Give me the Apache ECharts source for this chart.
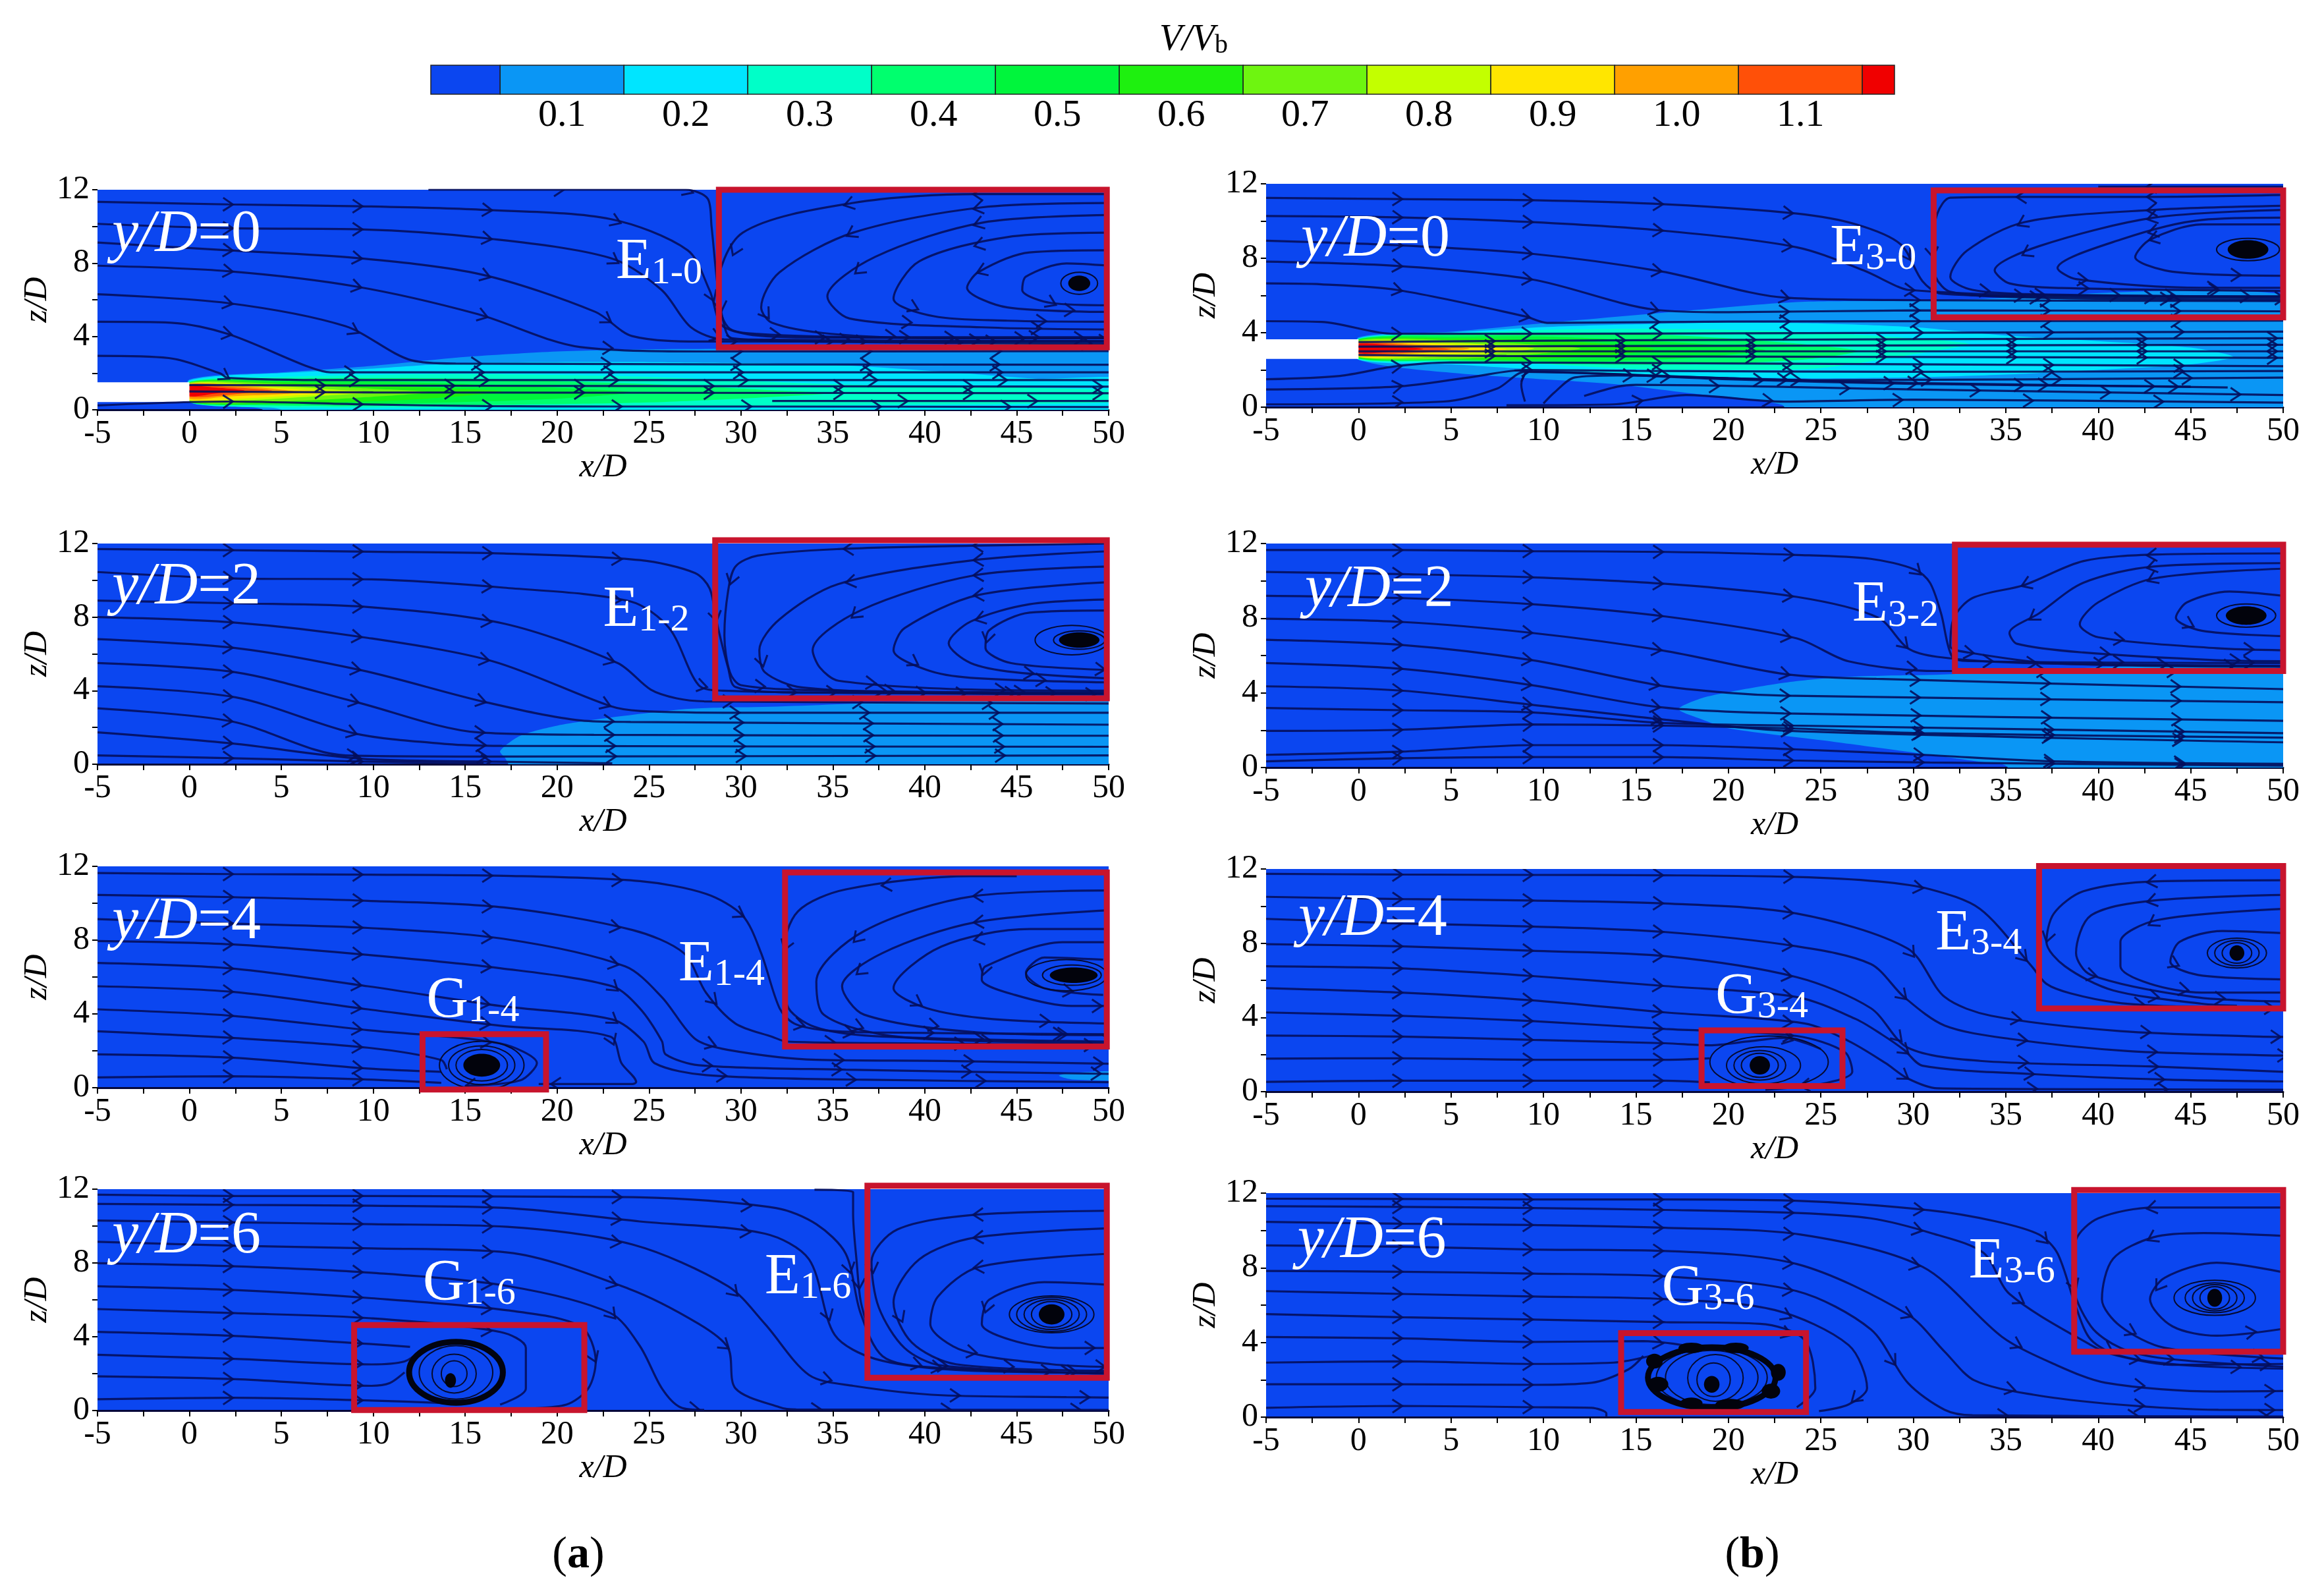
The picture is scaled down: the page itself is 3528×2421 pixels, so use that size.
<!DOCTYPE html>
<html><head><meta charset="utf-8">
<style>html,body{margin:0;padding:0;background:#fff}#c{width:3528px;height:2421px}</style>
<script src="https://cdn.jsdelivr.net/npm/echarts@6/dist/echarts.min.js"></script></head>
<body><div id="c"></div>
<script>
// ---------- colour bar ----------
const CB_EDGES=[-0.006,0.05,0.15,0.25,0.35,0.45,0.55,0.65,0.75,0.85,0.95,1.05,1.15,1.176];
const CB_TICKS=[0.1,0.2,0.3,0.4,0.5,0.6,0.7,0.8,0.9,1.0,1.1];
const CB_COLORS=['#0B46F0','#0A96F5','#00E5FF','#00FFC8','#00FF6E','#00F53C','#1EF00F','#6EF510','#C3FF00','#FFE600','#FFA000','#FF5008','#F00000'];

// ---------- streamlines: flat x/D, z/D pairs ----------
const A0_STREAMS=[
[13,12,20,12,27,12,28.2,11.5,28.4,10,28.7,7,29,5,29.5,3.9,35,3.7,50,3.6],
[-5,11.34,2.1,11.2,9.3,11.1,16.1,10.9,22.9,10.4,27.1,8.7,28.3,6.5,29.1,4.5,33,3.95,50,3.9],
[-5,10.14,2.08,9.9,9.28,9.84,16.08,9.36,22.88,8.28,25.68,6.54,27.28,4.5,29.08,3.84,50,3.75],
[-5,9.12,2.08,8.7,9.08,8.28,15.88,7.38,22.08,5.34,24.08,4.02,28.08,3.72,50,3.72],
[-5,7.86,2.08,7.56,9.08,6.72,15.68,5.22,21.28,3.42,28.08,3.18,50,3.2],
[-5,6.3,2.08,5.82,8.48,4.56,12.08,2.7,14.48,2.52,50,2.46],
[-5,4.8,-1,4.75,2.08,4.14,6.48,2.34,7.68,2.04,50,2.04],
[-5,2.94,-1.12,2.82,1.68,1.98,2.08,1.74,8,1.62,50,1.62],
[0,1.35,10,1.32,50,1.26],[0,1.0,10,0.95,50,0.9],[31.7,0.48,50,0.48],
[-5,0.24,2.1,0.45,9.3,0.3,16.1,0.2,23,0.18,30,0.18,50,0.15],
[50,11.76,42.9,11.76,36.1,11.28,30.1,9.66,28.7,6.5,29.3,4.5,30.9,4.14,37.7,3.96,50,3.96],
[50,11.28,43.1,11.04,36.1,9.66,32.1,7.5,31.1,5.58,31.7,4.74,34.9,4.14,41,3.9,50,3.9],
[50,10.62,43.1,10.2,37.3,8.34,34.7,6.18,35.9,4.98,43.1,4.5,50,4.38],
[50,9.66,44.5,9.42,39.7,8.1,38.3,6.06,40.5,5.1,44.5,4.86,50,4.8],
[50,8.7,45.7,8.58,42.9,7.5,42.3,6.66,44.5,5.58,50,5.34],
[50,7.86,47.7,7.98,45.5,7.26,45.3,6.54,46.9,5.82,50,5.7]];
const B0_STREAMS=[
[50,11.85,40,11.85],
[-5,11.24,2.07,11.18,9.4,11.12,16.6,10.9,23.7,10.4,26.9,9.82,29.3,8.76,30.5,6.76,31.5,6.1,37,5.95,50,5.85],
[-5,10.27,2.07,10.2,9.4,9.94,16.6,9.47,23.7,8.59,27.3,7.35,29.1,6.5,29.7,6.3,35,6.05,50,5.95],
[-5,8.94,2.07,8.7,9.4,8.24,16.4,7.29,23.1,5.88,30,5.75,50,5.7],
[-5,7.82,2.07,7.59,9.4,6.86,16,5.24,20,5.1,30,5.2,50,5.15],
[-5,6.65,-2,6.6,2.07,6.3,9,4.88,10.2,4.53,20,4.6,50,4.65],
[-5,4.62,-2,4.58,1.9,3.94,15,3.95,50,4.06],
[0,3.5,15,3.6,50,3.7],[0,3.25,20,3.3,50,3.35],[0,3.0,50,3.0],[0,2.8,8,2.75,50,2.65],
[-5,1.5,-1,1.68,1.9,2.18,5,2.4,20,2.35,50,2.2],
[-5,0.95,2,1.1,6,1.6,9,2.0,15,1.95,30,1.9,50,1.94],
[-5,0.15,4.6,0.3,7.5,1.0,9,1.9,20,1.55,30,1.3,47,1.06],
[9,0.3,8.8,1.2,9.2,1.9,20,1.5,30,1.25,45,1.1],
[10,0.2,10.6,0.8,11.7,1.6,14,1.7,25,1.45,50,1.59],
[12.2,0.6,14,1.1,15,1.2,30,0.95,50,0.65],
[8,0.1,13.8,0.15,17.7,0.65,23,0.3,30,0.4,50,0.24],
[50,11.4,43,11.3,36,11.3,32,11.25,31.3,10.4,31,8.5,31.2,7,32,6.2,36,5.9,50,5.75],
[50,10.82,43,10.6,36,9.94,32.9,8.41,32,7,33.2,6.3,36.8,6.06,50,5.94],
[50,10.6,43,10.18,36.8,8.65,34.4,7.35,35.2,6.65,38,6.4,50,6.24],
[50,10.18,45.6,10.06,41.2,9,37.8,7.47,38.8,6.88,45.6,6.41,50,6.41],
[50,9.82,45.6,9.82,42.8,9,42,8.06,43.6,7.35,46.4,7.12,50,7.06]];
const A2_STREAMS=[
[-5,11.7,2.3,11.64,9.7,11.56,17.1,11.46,24.5,11.1,27.5,10.4,28.3,9.55,28.7,7.64,29.3,5.25,29.7,4.2,33,3.9,50,3.85],
[-5,10.45,2.5,10.1,9.9,10.05,17.1,9.6,24,8.85,26.1,7.4,27.7,4.3,29,4,40,3.85,50,3.8],
[-5,8.9,2.5,8.75,9.7,8.55,17.1,7.65,23.3,5.5,25.1,4.05,26.5,3.58,28,3.42,50,3.3],
[-5,8,2.5,7.7,9.7,6.87,16.5,5.6,22.9,3.16,24.5,2.9,30,2.8,50,2.8],
[-5,6.8,2.5,6.32,9.4,5.1,16,3.4,21.3,2.38,24,2.3,50,2.15],
[-5,5.5,2.5,5,9,3.4,15.7,1.73,22,1.6,50,1.55],
[-5,4.24,2.5,3.64,9,1.67,14,1.1,17,1.0,50,0.95],
[-5,3.04,2.3,2.33,8.5,0.48,16,0.42,50,0.48],
[-5,1.73,2.3,1.13,9.3,0.3,16,0.15,23,0.05],
[-5,0.48,2.3,0.33,9.3,0.15,16,0.05],
[50,12,42.5,11.88,35.3,11.7,30.9,11.34,29.7,10.75,29.3,9.4,29.1,7,29.4,5,30,4.3,35,4,50,3.9],
[50,11.58,42.7,11.1,35.3,9.8,32.1,7.88,31,6.2,31.3,5,33.3,4.18,41.7,3.88,50,3.85],
[50,10.75,42.7,10.27,36.5,8.36,33.9,6.2,34.3,5.25,35.3,4.54,42.5,4.06,50,4],
[50,9.9,42.9,9.2,38.9,7.4,38.3,6.2,40.1,5.13,42.5,4.7,50,4.45],
[50,8.96,45.7,8.7,42.5,7.76,41.3,6.57,42.5,5.5,44.9,5,50,4.66],
[50,8.36,45.7,8.24,43.5,7.28,43.3,6.33,44.7,5.5,50,5.13]];
const B2_STREAMS=[
[-5,11.65,2.3,11.65,9.4,11.59,16.6,11.55,23.7,11.39,27.7,11.18,30.1,10.6,30.9,9.9,31.5,8.26,32.1,5.93,33,5.7,50,5.6],
[-5,10.48,2.3,10.36,9.4,10.19,16.6,9.84,23.7,9.14,28.1,8.03,29.7,6.39,31.3,5.93,36,5.6,50,5.45],
[-5,9.2,2.3,9.08,9.4,8.75,16.6,8.09,23.7,6.92,26.5,5.69,31.3,5.17,50,5.17],
[-5,7.97,2.3,7.8,9.4,7.21,16.4,6.28,23.1,5,28,4.75,50,4.2],
[-5,6.84,2.3,6.57,9.4,5.75,16.2,4.41,20,4.0,23,3.85,50,3.5],
[-5,5.6,2.3,5.29,9.4,4.41,16.2,3.24,23,2.9,50,2.5],
[-5,4.35,2.3,4.12,9.4,3.36,16.2,2.6,23.3,1.96,50,1.35],
[-5,3.19,2.3,3.07,9.4,2.95,16.2,2.4,23.3,2.25,50,1.84],
[-5,1.96,2.3,2.02,9.4,2.31,16.2,2.25,23.3,2.1,30.5,1.84,50,1.6],
[-5,0.68,2.3,0.85,9.4,1.2,16.2,1.2,23.7,0.97,30.5,0.68,37.6,0.33,50,0.2],
[-5,0.33,2.3,0.5,9.4,0.56,16.2,0.56,23.3,0.38,30.9,0.27,50,0.1],
[50,11.47,43.2,11.41,39.2,11.06,36,9.78,33.2,9.08,32.2,8.03,32,6.5,33,6.16,37.6,5.58,50,5.4],
[50,10.95,43,10.77,39.2,9.9,36.8,8.26,35.2,7.21,35.6,6.63,39.2,6.16,46.4,5.75,50,5.7],
[50,10.65,43,10.13,40,8.85,39,7.68,40,6.98,46.4,6.39,50,6.28],
[50,9.2,47.1,9.43,44.8,8.85,44.2,8.03,45.6,7.33,50,7.04]];
const A4_STREAMS=[
[-5,11.64,2.3,11.58,9.7,11.55,17.1,11.49,24.5,11.2,28.1,10.51,30.1,9.32,31.1,7.29,32.1,4.31,32.9,3.48,34.5,3.12,37,3,50,2.9],
[-5,10.45,2.3,10.33,9.7,10.13,17.1,9.77,24.1,8.55,26.9,7.29,28.1,5.15,29.7,3.48,31.7,2.76,32.5,2.5,40,2.4,50,2.3],
[-5,9.14,2.3,8.9,9.7,8.66,17.1,8.07,23.7,6.58,25.7,4.91,27.5,2.65,29.3,2.05,34.1,1.51,41,1.45,50,1.3],
[-5,7.95,2.3,7.77,9.7,7.2,16.9,6.48,23,5.5,24.5,4.3,25.7,2.53,25.9,1.81,27.7,1.22,35.7,0.98,50,0.75],
[-5,6.76,2.3,6.46,9.7,5.5,16.9,4.43,23,3.7,24.7,2.5,25.3,1.33,28.1,0.68,36.1,0.44,50,0.3],
[-5,5.5,2.3,5.2,9.7,4.25,16.9,3.36,22.9,2.77,23.5,1.33,24.3,0.3,24.1,0.2,19,0.2],
[-5,4.25,2.3,3.9,9.7,3.12,16.9,2.4,18.9,1.33,18,0.4,15,0.1],
[-5,3.06,2.3,2.7,9.7,2.17,13.7,1.5,14,1],
[-5,1.81,2.3,1.63,9.7,1.04,13.7,0.86],
[-5,0.56,2.3,0.62,9.7,0.44,13.7,0.26],
[45,11.47,42.5,11.47,35.7,10.75,33.1,9.56,32.3,7.3,32.5,4.5,34,3.3,37.2,2.8,50,2.5],
[50,10.69,42.7,10.39,36.7,8.49,34.1,5.75,34.5,3.96,37.7,2.88,42.9,2.53,50,2.4],
[50,9.62,42.7,8.96,37.7,7.3,35.5,5.5,36.7,3.96,42.9,3,50,2.85],
[50,8.6,45.7,8.6,40.9,7.65,38.3,5.39,40.1,4.31,43.7,3.72,50,3.48],
[50,7.89,47.5,7.89,43.3,6.58,43.1,5.86,44.9,5.03,48,4.43,50,4.43],
[49.7,6.94,46.5,7.06,45.5,6.22,46.5,5.39,49.7,5.03]];
const B4_STREAMS=[
[-5,11.74,2.3,11.7,9.4,11.68,16.6,11.66,23.7,11.57,28.1,11.33,30.9,10.91,33.6,9.85,36.4,6.76,37.2,5.81,38.5,5.3,41,4.8,44,4.6,50,4.5],
[-5,10.5,2.3,10.38,9.4,10.3,16.6,10.14,23.7,9.6,29.7,7.71,31.7,5.1,34.2,4.09,41.2,3.26,48.7,2.97,50,2.95],
[-5,9.31,2.3,9.07,9.4,8.9,16.6,8.6,23.7,7.83,27.7,6.88,29.5,5.1,31.7,3.56,35.2,2.85,41.6,2.19,49.1,1.96,50,1.95],
[-5,7.95,2.3,7.83,9.4,7.59,16.6,7.3,23.7,6.17,27.7,4.5,29.7,2.37,33.6,1.66,42.8,1.36,50,1.07],
[-5,6.76,2.3,6.64,9.4,6.23,16.6,5.69,23.7,5.1,26.9,3.91,28.3,3.08,29.5,2.25,30.5,1.4,36.4,0.95,43.6,0.65,50,0.55],
[-5,5.58,2.3,5.34,9.4,4.92,16.6,4.27,24.1,3.68,26.5,2.73,28.5,1.54,29.7,0.71,31.3,0.18,43.6,0.12,50,0.1],
[-5,4.27,2.3,4.09,9.4,3.8,16.6,3.38,23.7,3.0,26.3,2.13,26.7,1.07,25.3,0.47,22,0.1],
[-5,3.02,2.3,2.97,9.4,2.79,16.6,2.61,19,2.5,21,2.7,23,2.9,25,2.3],
[-5,1.78,2.3,1.8,9.4,1.72,16.6,1.72,19,1.8],
[-5,0.53,2.3,0.59,9.4,0.59,16.6,0.59,19,0.5],
[50,11.39,43,11.33,39.2,10.8,37.6,9.6,37.2,8.07,38.2,6.76,40.8,5.46,45.6,4.74,47.5,4.63],
[50,10.6,43,10.3,39.6,9.49,38.8,7.47,39.6,6.29,45.2,5.1,50,4.86],
[50,9.85,43.2,9.25,41.2,8.07,41.2,6.76,42.8,5.81,45.6,5.34,50,5.34],
[50,8.54,46.7,8.66,44.4,8.07,43.9,7,45.4,6.29,50,6.05]];
const A6_STREAMS=[
[34,11.97,36.1,11.85,36.1,10.7,36.3,8,36.5,6,36.9,4.5],
[-5,11.7,2.5,11.63,9.9,11.63,17.3,11.6,24.5,11.56,31.9,10.98,34.1,10.1,35.7,8.5,36.5,5.3,37.7,2.95,40.1,2.36,50,2],
[-5,11.2,2.5,11.15,9.9,11.1,17.3,10.98,24.5,10.25,31.3,9.59,33.7,8.2,35.1,4.1,37.3,2.8,41.7,2.2,50,2.05],
[-5,10.3,2.5,10.2,9.9,10.1,17.3,9.96,24.1,9,29.3,6.74,31.3,4.7,33.7,1.93,36.1,1.34,40.9,0.83,47.7,0.73,50,0.7],
[-5,9.15,2.5,8.93,9.9,8.79,17.3,8.57,23.9,6.6,27.7,4.7,29.3,3.39,29.7,1.2,32.1,0.18,33,0.06,50,0.03],
[-5,7.99,2.5,7.82,9.9,7.47,17.3,6.75,22.9,5.28,24.5,3.5,25.7,1.2,26.7,0.18,28,0.03],
[-5,6.74,2.5,6.53,9.9,6.09,17.3,5.43,21.3,4.55,22.1,2.66,21.7,1.2,20.5,0.32,18,0.1],
[-5,5.5,2.5,5.28,9.9,5,16.9,4.26,18.3,3.39,18.3,1.2,16.9,0.32],
[-5,4.26,2.5,4.04,9.9,3.6,12,3.45],
[-5,3.02,2.5,2.8,9.9,2.5,11.7,2.66,12.5,3.2],
[-5,1.85,2.5,1.7,9.9,1.34,10.9,1.49,11.7,2.07],
[-5,0.61,2.5,0.69,9.9,0.54,14,0.4],
[50,10.83,42.7,10.61,38.5,9.81,37.1,8.06,37.5,5.58,38.9,3.39,40.9,2.44,50,2.0],
[50,9.88,42.7,9.37,39.7,8.2,38.3,5.87,39.3,3.68,41.7,2.51,50,2.15],
[50,8.5,42.9,7.77,40.7,6.16,40.3,4.7,42.1,3.24,46.9,2.51,50,2.36],
[50,6.82,46.5,6.96,43.5,6.01,43.1,4.7,44.7,3.82,47.3,3.39,50,3.39]];
const B6_STREAMS=[
[-5,11.7,2.3,11.69,9.4,11.66,16.6,11.66,23.7,11.59,30.9,11.08,34.4,10.5,36.8,9.78,37.8,8.77,38.8,5.88,39.6,4.15,41.2,3.28,44.8,2.77,50,2.6],
[-5,11.3,2.3,11.26,9.4,11.2,16.6,11.1,23.7,10.94,27.7,10.65,31,9.85,33.8,8.8,35.2,6.6,39.6,3.86,41,3.3,44,2.8,50,2.85],
[-5,10.46,2.3,10.36,9.4,10.29,16.6,10.14,23.9,9.78,30.5,8.05,34.8,4.3,37.6,2.85,40.4,1.84,46.4,1.37,50,1.4],
[-5,9.2,2.3,9.13,9.4,8.98,16.6,8.9,23.7,8.2,29.7,5.5,31.7,3.5,33.3,1.97,36.5,1.2,41,0.68,46.5,0.39,50,0.38],
[-5,7.83,2.3,7.79,9.4,7.69,16.6,7.54,23.7,6.75,27.7,4.7,29.7,1.84,31.7,0.39,33.2,0.1,50,0.03],
[-5,6.75,2.3,6.6,9.4,6.46,16.6,6.32,22.5,5.74,26.5,3.86,27.5,1.55,26.5,0.68,24.9,0.32],
[-5,5.52,2.3,5.35,9.4,5.23,16.6,5.09,21.7,5,24.1,4.15,24.7,1.55,23.7,0.53],
[-5,4.29,2.3,4.22,9.4,4.03,15.4,4.07,18.5,3.7],
[-5,2.92,2.3,2.99,9.4,2.85,13.8,2.92,15.8,3.28],
[-5,1.76,2.3,1.76,9.4,1.73,12.6,1.84,14.6,2.56,15.4,3.28],
[-5,0.5,2.3,0.6,9.4,0.53,12.6,0.5,13.4,0.2,13.4,0],
[50,11.23,43,11.23,40,10.65,38.8,9.5,38.6,7.33,39.6,4.87,41.2,3.71,43.6,3.14,50,2.7],
[50,9.71,45.7,9.86,43,9.64,40.8,8.48,40.2,6.32,41.2,4.87,43.6,3.71,50,3.14],
[50,7.76,46.4,8.27,43.6,7.47,42.8,6.32,44,4.87,46.4,4.36,50,4.73]];

// ---------- velocity contour regions: flat pairs, outermost first, one per band ----------
const A0_BANDS=[
[0,1.65,5,2.04,10,2.4,15,2.88,20,3.18,25,3.3,35,3.32,52,3.3,52,-1,4,-1,4,0,2,0.2,0,0.42],
[0,1.6,5,2.0,10,2.25,15,2.55,25,2.6,35,2.45,42,2.0,46,1.7,52,1.55,52,-1,5,-1,5,0,2,0.25,0,0.42],
[0,1.55,5,1.8,15,1.95,25,1.8,35,1.4,52,1.0,52,0.45,35,0.25,20,0.15,10,0.1,3,0.15,0,0.42],
[0,1.52,5,1.7,15,1.7,25,1.4,32,1.05,35,0.9,25,0.4,15,0.25,8,0.2,3,0.25,0,0.42],
[0,1.5,5,1.6,12,1.5,20,1.2,24,0.95,20,0.6,12,0.35,5,0.3,0,0.42],
[0,1.5,5,1.5,12,1.25,17,1.0,12,0.55,5,0.35,0,0.42],
[0,1.48,4,1.45,9,1.2,13,0.95,9,0.65,4,0.42,0,0.45],
[0,1.45,4,1.35,8,1.1,10,0.95,7,0.75,3,0.52,0,0.5],
[0,1.42,3,1.3,6,1.1,8,0.95,6,0.8,3,0.62,0,0.55],
[0,1.4,3,1.28,5,1.1,6,0.95,5,0.85,2,0.72,0,0.6],
[0,1.35,2,1.25,4.5,1.05,3,0.9,0,0.7],
[0,1.3,1.5,1.2,3,1.05,1.5,0.9,0,0.75]];
const B0_BANDS=[
[0,3.75,5,4.05,10.2,4.53,17.7,5.18,23.7,5.65,30,5.7,52,5.7,52,-1,23.5,-1,22.9,0.12,17.8,0.76,13.8,1.24,5,1.85,0,2.55],
[0,3.7,5,4.0,10,4.3,15,4.45,20,4.55,25,4.5,30,4.3,35,3.85,40,3.55,45,3.2,47.3,2.7,45,2.3,40,2.0,35,1.75,30,1.6,25,1.55,20,1.6,15,1.75,10,2.0,5,2.3,0,2.55],
[0,3.68,5,3.95,10,4.15,15,4.2,20,4.15,25,4.0,30,3.7,33,3.4,31,3.0,25,2.1,20,2.0,15,2.05,10,2.3,5,2.45,0,2.57],
[0,3.66,5,3.9,10,4.0,15,3.95,20,3.7,25,3.3,27,3,24,2.55,18,2.3,12,2.3,5,2.5,0,2.6],
[0,3.65,5,3.8,10,3.8,15,3.6,20,3.3,22,3.05,18,2.65,12,2.45,5,2.55,0,2.62],
[0,3.62,5,3.7,10,3.6,14,3.35,16,3.1,13,2.75,8,2.55,3,2.6,0,2.65],
[0,3.6,5,3.6,9,3.4,12,3.15,9,2.8,5,2.6,0,2.68],
[0,3.55,4.5,3.5,8,3.3,9.5,3.15,7,2.85,4,2.7,0,2.7],
[0,3.52,4,3.42,7,3.2,8,3.1,6,2.92,3,2.78,0,2.72],
[0,3.48,3.5,3.35,6,3.15,4,2.95,2,2.82,0,2.78],
[0,3.45,3,3.3,5,3.12,3,2.95,0,2.85],
[0,3.4,2.5,3.25,3.5,3.12,2,3,0,2.9]];
const A2_BANDS=[[16.9,0.72,18,1.55,20,2.1,23,2.55,27,3,30,3.1,52,3.2,52,-1,18,-1,17.2,0.3]];
const B2_BANDS=[[17.3,3.13,18.5,3.7,20.1,4.06,22.9,4.53,25.7,4.82,29.7,4.94,52,4.98,52,-1,36,-1,35,0.1,33.9,0.27,29.7,0.85,25.7,1.38,20.1,2.08,18.5,2.6]];
const A4_BANDS=[[47.3,0.65,48,0.8,52,0.9,52,0.42,48,0.45]];
const B4_BANDS=[],A6_BANDS=[],B6_BANDS=[];

// nozzle exits (white): x0, z0, x1, z1
const A0_NOZZLE=[-5,0.42,0,1.5];
const B0_NOZZLE=[-5,2.59,0,3.65];

// vortex cores [x, z, rx, rz] and the tight rings round them
const A0_CORES=[[48.4,6.9,0.6,0.42]];
const B0_CORES=[[48.1,8.47,1.1,0.5]];
const A2_CORES=[[48.4,6.75,1.1,0.42]];
const B2_CORES=[[48,8.14,1.1,0.5]];
const A4_CORES=[[48.1,6.1,1.3,0.42],[15.9,1.22,1.0,0.62]];
const B4_CORES=[[47.5,7.47,0.4,0.42],[21.7,1.42,0.55,0.5]];
const A6_CORES=[[46.9,5.21,0.7,0.55],[14.2,1.63,0.3,0.4]];
const B6_CORES=[[46.3,6.39,0.4,0.48],[19.1,1.76,0.42,0.45],
 [18,3.71,0.7,0.28],[20.4,3.71,0.7,0.28],[16,3,0.45,0.4],[16.2,1.76,0.55,0.4],[18,0.75,0.6,0.3],[20.1,0.68,0.8,0.3],[22.3,1.39,0.5,0.4],[22.7,2.4,0.4,0.45]];
const A0_RINGS=[[48.4,6.9,1,0.6]];
const B0_RINGS=[[48.1,8.47,1.7,0.6]];
const A2_RINGS=[[48,6.75,2,0.8],[48.4,6.75,1.4,0.5]];
const B2_RINGS=[[48,8.14,1.6,0.62]];
const A4_RINGS=[[48,6.1,1.6,0.55],[47.7,6.1,2.2,0.85],[15.9,1.22,1.4,0.85],[15.9,1.22,1.8,1.05],[15.9,1.22,2.3,1.3]];
const B4_RINGS=[[47.5,7.47,0.8,0.55],[47.5,7.47,1.2,0.68],[47.5,7.47,1.6,0.8],[21.7,1.42,1,0.65],[21.7,1.42,1.4,0.8],[21.9,1.42,2,1.0],[22.2,1.6,3.2,1.4]];
const A6_RINGS=[[46.9,5.21,1.1,0.7],[46.9,5.21,1.5,0.82],[46.9,5.21,1.9,0.92],[46.9,5.21,2.3,1.0],[14.4,2,0.7,0.7],[14.4,2,1.2,1.05],[14.5,2.07,2.0,1.45]];
const B6_RINGS=[[46.3,6.39,0.8,0.6],[46.3,6.39,1.2,0.7],[46.3,6.39,1.6,0.8],[46.3,6.39,2.2,0.94],[19.2,2.0,0.9,0.9],[19.3,2.1,1.5,1.25],[19.1,2.12,2.5,1.45],[19.1,2.12,3.0,1.55]];
const A6_THICK=[[14.5,2.07,2.55,1.65]];
const B6_THICK=[[19.1,2.12,3.45,1.62]];

// red boxes: x0, z0, x1, z1
const A0_BOXES=[[28.8,3.4,49.9,12]];
const B0_BOXES=[[31.1,4.82,50,11.65]];
const A2_BOXES=[[28.6,3.58,49.9,12.18]];
const B2_BOXES=[[32.25,5.17,50,11.94]];
const A4_BOXES=[[32.4,2.23,49.9,11.67],[12.68,-0.1,19.4,2.9]];
const B4_BOXES=[[36.8,4.48,50,12.16],[18.55,0.3,26.17,3.3]];
const A6_BOXES=[[36.88,1.78,49.9,12.19],[8.96,0.03,21.48,4.63]];
const B6_BOXES=[[38.7,3.5,50,12.17],[14.2,0.27,24.2,4.5]];

// captions
const SECTION_TITLES=['y/D=0','y/D=2','y/D=4','y/D=6'];
const REGION_NAMES=[[['E','1-0']],[['E','3-0']],[['E','1-2']],[['E','3-2']],[['E','1-4'],['G','1-4']],[['E','3-4'],['G','3-4']],[['E','1-6'],['G','1-6']],[['E','3-6'],['G','3-6']]];

// ---------- layout ----------
const FONT='"Liberation Serif","Times New Roman",serif';
const INK='rgba(4,14,92,0.9)', MAIN='#0B46F0', RED='#C8142D';
const PANELS=[
 {k:0,l:148,r:1683,t:288,b:622,s:A0_STREAMS,f:A0_BANDS,n:A0_NOZZLE,c:A0_CORES,g:A0_RINGS,h:[],x:A0_BOXES,title:0,tp:[-4.2,9.5],rp:[[23.2,8.0]]},
 {k:1,l:1922,r:3466,t:279,b:618,s:B0_STREAMS,f:B0_BANDS,n:B0_NOZZLE,c:B0_CORES,g:B0_RINGS,h:[],x:B0_BOXES,title:0,tp:[-3.1,8.97],rp:[[25.5,8.5]]},
 {k:2,l:148,r:1683,t:825,b:1160,s:A2_STREAMS,f:A2_BANDS,c:A2_CORES,g:A2_RINGS,h:[],x:A2_BOXES,title:1,tp:[-4.2,9.57],rp:[[22.5,8.35]]},
 {k:3,l:1922,r:3466,t:825,b:1165,s:B2_STREAMS,f:B2_BANDS,c:B2_CORES,g:B2_RINGS,h:[],x:B2_BOXES,title:1,tp:[-2.9,9.47],rp:[[26.7,8.67]]},
 {k:4,l:148,r:1683,t:1315,b:1651,s:A4_STREAMS,f:A4_BANDS,c:A4_CORES,g:A4_RINGS,h:[],x:A4_BOXES,title:2,tp:[-4.2,8.96],rp:[[26.6,6.64],[12.9,4.7]]},
 {k:5,l:1922,r:3466,t:1319,b:1657,s:B4_STREAMS,f:B4_BANDS,c:B4_CORES,g:B4_RINGS,h:[],x:B4_BOXES,title:2,tp:[-3.25,9.3],rp:[[31.2,8.5],[19.3,5.08]]},
 {k:6,l:148,r:1683,t:1805,b:2141,s:A6_STREAMS,f:A6_BANDS,c:A6_CORES,g:A6_RINGS,h:A6_THICK,x:A6_BOXES,title:3,tp:[-4.2,9.4],rp:[[31.3,7.2],[12.7,6.85]]},
 {k:7,l:1922,r:3466,t:1811,b:2151,s:B6_STREAMS,f:B6_BANDS,c:B6_CORES,g:B6_RINGS,h:B6_THICK,x:B6_BOXES,title:3,tp:[-3.3,9.4],rp:[[33,8.3],[16.4,6.85]]}
];

const pairs=a=>{const o=[];for(let i=0;i<a.length;i+=2)o.push([a[i],a[i+1]]);return o;};
function arrowsOn(pts){ // chevrons at equal arc length along a streamline
  const out=[];let next=7.1,acc=0;
  for(let i=1;i<pts.length;i++){
    const dx=pts[i][0]-pts[i-1][0],dz=pts[i][1]-pts[i-1][1],len=Math.hypot(dx,dz);
    while(len>0&&acc+len>=next){const t=(next-acc)/len;out.push([pts[i-1][0]+dx*t,pts[i-1][1]+dz*t,Math.atan2(dz,dx)]);next+=7.05;}
    acc+=len;
  }
  return out;
}

const grid=[],xAxis=[],yAxis=[],series=[];
const axisStyle={color:'#000',width:2};
PANELS.forEach((p,i)=>{
  grid.push({left:p.l,top:p.t,width:p.r-p.l,height:p.b-p.t,show:true,backgroundColor:MAIN,borderWidth:0});
  xAxis.push({gridIndex:i,type:'value',min:-5,max:50,interval:5,name:'x/D',nameLocation:'middle',nameGap:50,
    nameTextStyle:{fontFamily:FONT,fontStyle:'italic',fontSize:50,color:'#000'},
    axisLine:{show:true,onZero:false,lineStyle:{color:'#06083a',width:3}},
    axisTick:{show:true,length:9,lineStyle:axisStyle},minorTick:{show:true,splitNumber:2,length:9,lineStyle:axisStyle},
    axisLabel:{show:true,margin:12,fontFamily:FONT,fontSize:50,color:'#000',showMinLabel:true,showMaxLabel:true,hideOverlap:false},splitLine:{show:false}});
  yAxis.push({gridIndex:i,type:'value',min:0,max:12,interval:4,name:'z/D',nameLocation:'middle',nameGap:64,nameRotate:90,
    nameTextStyle:{fontFamily:FONT,fontStyle:'italic',fontSize:50,color:'#000'},
    axisLine:{show:false,onZero:false},axisTick:{show:true,length:8,lineStyle:axisStyle},minorTick:{show:true,splitNumber:2,length:8,lineStyle:axisStyle},
    axisLabel:{show:true,margin:12,fontFamily:FONT,fontSize:50,color:'#000',showMinLabel:true,showMaxLabel:true,hideOverlap:false},splitLine:{show:false}});
  const ax={xAxisIndex:i,yAxisIndex:i,silent:true,animation:false,tooltip:{show:false}};
  // contour bands
  p.f.forEach((flat,j)=>{
    const pts=pairs(flat);
    series.push({...ax,type:'custom',z:1,clip:true,encode:{x:0,y:1},data:pts,
      renderItem:(pr,api)=>pr.dataIndex?null:{type:'polygon',shape:{points:pts.map(q=>api.coord(q)),smooth:0.25},style:{fill:CB_COLORS[j+1]}}});
  });
  if(p.n){const n=p.n;
    series.push({...ax,type:'custom',z:2,clip:true,encode:{x:[0,2],y:[1,3]},data:[n],
      renderItem:(pr,api)=>{const a=api.coord([n[0],n[3]]),b=api.coord([n[2],n[1]]);
        return {type:'rect',shape:{x:a[0],y:a[1],width:b[0]-a[0],height:b[1]-a[1]},style:{fill:'#fff'}};}});
  }
  // streamlines
  p.s.forEach(flat=>{
    series.push({...ax,type:'line',z:3,data:pairs(flat),smooth:0.3,showSymbol:false,symbol:'none',clip:true,lineStyle:{color:INK,width:3.2}});
  });
  // direction chevrons
  const arrows=p.s.flatMap(f=>arrowsOn(pairs(f)));
  series.push({...ax,type:'custom',z:4,clip:true,encode:{x:0,y:1},data:arrows,
    renderItem:(pr,api)=>{const c=api.coord([api.value(0),api.value(1)]),th=api.value(2),
      ux=Math.cos(th),uy=-Math.sin(th),L=15,W=10;
      const tip=[c[0]+ux*L/2,c[1]+uy*L/2];
      return {type:'polyline',shape:{points:[[tip[0]-ux*L-uy*W,tip[1]-uy*L+ux*W],tip,[tip[0]-ux*L+uy*W,tip[1]-uy*L-ux*W]]},
        style:{stroke:INK,fill:null,lineWidth:3}};}});
  // rings and cores
  const ell=(list,z,style)=>series.push({...ax,type:'custom',z,clip:true,encode:{x:0,y:1},data:list,
    renderItem:(pr,api)=>{const c=api.coord([api.value(0),api.value(1)]),s=api.size([api.value(2),api.value(3)]);
      return {type:'ellipse',shape:{cx:c[0],cy:c[1],rx:s[0],ry:s[1]},style};}});
  ell(p.g,4,{fill:null,stroke:'#050a30',lineWidth:2});
  if(p.h.length)ell(p.h,4,{fill:null,stroke:'#020410',lineWidth:9});
  ell(p.c,5,{fill:'#02030c',stroke:null});
  // red boxes
  series.push({...ax,type:'custom',z:6,clip:false,encode:{x:[0,2],y:[1,3]},data:p.x,
    renderItem:(pr,api)=>{const a=api.coord([api.value(0),api.value(3)]),b=api.coord([api.value(2),api.value(1)]);
      return {type:'rect',shape:{x:a[0],y:a[1],width:b[0]-a[0],height:b[1]-a[1]},style:{fill:null,stroke:RED,lineWidth:9}};}});
  // white annotations
  const names=REGION_NAMES[i].map((n,j)=>[p.rp[j][0],p.rp[j][1],n[0],n[1]]);
  series.push({...ax,type:'custom',z:7,clip:false,encode:{x:0,y:1},data:names.map(n=>[n[0],n[1]]),
    renderItem:(pr,api)=>{const c=api.coord([api.value(0),api.value(1)]),n=names[pr.dataIndex];
      return {type:'text',x:c[0],y:c[1],style:{text:'{m|'+n[2]+'}{s|'+n[3]+'}',align:'left',verticalAlign:'middle',
        rich:{m:{fontFamily:FONT,fontSize:88,fill:'#fff'},s:{fontFamily:FONT,fontSize:58,fill:'#fff',verticalAlign:'bottom',padding:[22,0,0,0]}}}};}});
  const t=SECTION_TITLES[p.title];
  series.push({...ax,type:'custom',z:7,clip:false,encode:{x:0,y:1},data:[p.tp],
    renderItem:(pr,api)=>{const c=api.coord([api.value(0),api.value(1)]);
      return {type:'text',x:c[0],y:c[1],style:{text:'{i|'+t.slice(0,3)+'}{n|'+t.slice(3)+'}',align:'left',verticalAlign:'middle',
        rich:{i:{fontFamily:FONT,fontStyle:'italic',fontSize:90,fill:'#fff'},n:{fontFamily:FONT,fontSize:90,fill:'#fff'}}}};}});
});

// colour bar
const cb=PANELS.length;
grid.push({left:654,top:99,width:2222,height:44,show:false});
xAxis.push({gridIndex:cb,type:'value',min:CB_EDGES[0],max:CB_EDGES[CB_EDGES.length-1],
  axisLine:{show:false},axisTick:{show:false},splitLine:{show:false},
  axisLabel:{show:true,margin:4,fontFamily:FONT,fontSize:58,color:'#000',customValues:CB_TICKS,formatter:v=>v.toFixed(1),hideOverlap:false}});
yAxis.push({gridIndex:cb,type:'value',min:0,max:1,show:false,splitLine:{show:false}});
const cbData=CB_COLORS.map((c,i)=>[CB_EDGES[i],CB_EDGES[i+1],i]);
series.push({type:'custom',xAxisIndex:cb,yAxisIndex:cb,silent:true,animation:false,clip:false,encode:{x:[0,1]},data:cbData,
  renderItem:(pr,api)=>{const a=api.coord([api.value(0),1]),b=api.coord([api.value(1),0]);
    return {type:'rect',shape:{x:a[0],y:a[1],width:b[0]-a[0],height:b[1]-a[1]},style:{fill:CB_COLORS[api.value(2)],stroke:'#222',lineWidth:1.5}};}});

const option={
  backgroundColor:'#fff',animation:false,
  title:[
   {text:'{i|V/V}{s|b}',left:1807,top:28,textAlign:'center',textStyle:{fontWeight:'normal',rich:{i:{fontFamily:FONT,fontStyle:'italic',fontWeight:'normal',fontSize:56,color:'#000'},s:{fontFamily:FONT,fontWeight:'normal',fontSize:40,color:'#000',verticalAlign:'bottom',padding:[14,0,0,0]}}}},
   {text:'({b|a})',left:873,top:2322,textAlign:'center',textStyle:{fontFamily:FONT,fontSize:68,fontWeight:'normal',color:'#000',rich:{b:{fontFamily:FONT,fontSize:68,fontWeight:'bold',color:'#000'}}}},
   {text:'({b|b})',left:2655,top:2322,textAlign:'center',textStyle:{fontFamily:FONT,fontSize:68,fontWeight:'normal',color:'#000',rich:{b:{fontFamily:FONT,fontSize:68,fontWeight:'bold',color:'#000'}}}}
  ],
  grid,xAxis,yAxis,series};
const chart=echarts.init(document.getElementById('c'),null,{renderer:'canvas'});
chart.setOption(option);
</script></body></html>
